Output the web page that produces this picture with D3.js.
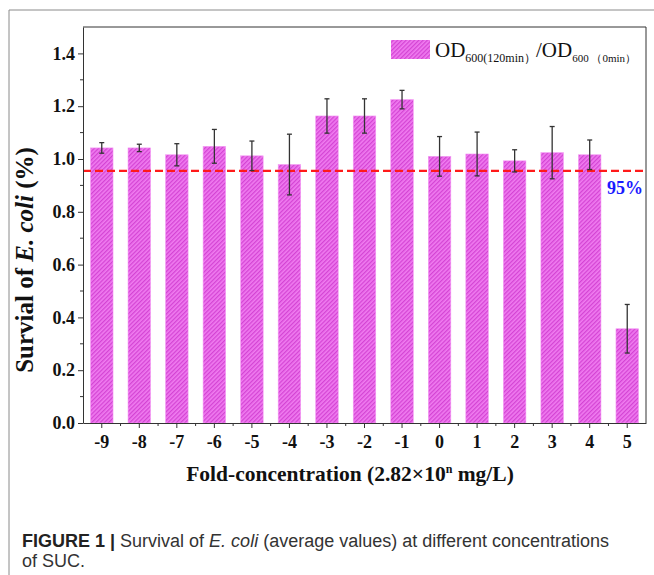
<!DOCTYPE html>
<html>
<head>
<meta charset="utf-8">
<script src="https://cdn.jsdelivr.net/npm/d3@7"></script>
<style>
body { margin: 0; background: #fff; }
svg { display: block; }
</style>
</head>
<body>
<div id="chart"></div>
<script>
// data
var categories = ["-9", "-8", "-7", "-6", "-5", "-4", "-3", "-2", "-1", "0", "1", "2", "3", "4", "5"];
var survival = [1.042, 1.042, 1.016, 1.048, 1.012, 0.979, 1.163, 1.163, 1.225, 1.010, 1.019, 0.993, 1.024, 1.016, 0.357];
var errors = [0.020, 0.014, 0.042, 0.064, 0.056, 0.115, 0.065, 0.065, 0.035, 0.075, 0.083, 0.042, 0.099, 0.056, 0.092];
var yTicks = [0, 0.2, 0.4, 0.6, 0.8, 1.0, 1.2, 1.4];
var threshold = 0.955;

var width = 654,
    height = 575;
var plot = {left: 83, right: 646, top: 27, bottom: 423};

var svg = d3.select("#chart").append("svg")
  .attr("width", width)
  .attr("height", height);

var defs = svg.append("defs");
var pat = defs.append("pattern")
  .attr("id", "hatch")
  .attr("patternUnits", "userSpaceOnUse")
  .attr("width", 3)
  .attr("height", 3)
  .attr("patternTransform", "rotate(45)");
pat.append("rect").attr("width", 3).attr("height", 3).attr("fill", "#f07cf0");
pat.append("rect").attr("width", 1.3).attr("height", 3).attr("fill", "#d444d4");

// outer frame of the figure panel
svg.append("line").attr("x1", 9).attr("x2", 9).attr("y1", 10).attr("y2", height)
  .attr("stroke", "#8a8a8a").attr("stroke-width", 1);
svg.append("line").attr("x1", 9).attr("x2", width).attr("y1", 10).attr("y2", 10)
  .attr("stroke", "#8a8a8a").attr("stroke-width", 1);

var x = d3.scaleBand()
  .domain(categories)
  .range([plot.left, plot.right])
  .paddingInner(0.4)
  .paddingOuter(0.2);

var y = d3.scaleLinear()
  .domain([0, 1.5])
  .range([plot.bottom, plot.top]);

var data = categories.map(function(c, i) {
  return {cat: c, v: survival[i], e: errors[i]};
});

// bars
svg.append("g").selectAll("rect")
  .data(data)
  .enter()
  .append("rect")
  .attr("x", function(d) { return x(d.cat); })
  .attr("y", function(d) { return y(d.v); })
  .attr("width", x.bandwidth())
  .attr("height", function(d) { return y(0) - y(d.v); })
  .attr("fill", "url(#hatch)")
  .attr("stroke", "#f49af4")
  .attr("stroke-width", 0.6);

// threshold line
svg.append("line")
  .attr("x1", plot.left).attr("x2", plot.right)
  .attr("y1", y(threshold)).attr("y2", y(threshold))
  .attr("stroke", "#ff1a1a")
  .attr("stroke-width", 2.4)
  .attr("stroke-dasharray", "8,4");

// error bars
var eb = svg.append("g").attr("stroke", "#333").attr("stroke-width", 1.3);
data.forEach(function(d) {
  var cx = x(d.cat) + x.bandwidth() / 2;
  eb.append("line").attr("x1", cx).attr("x2", cx).attr("y1", y(d.v + d.e)).attr("y2", y(d.v - d.e));
  eb.append("line").attr("x1", cx - 2.5).attr("x2", cx + 2.5).attr("y1", y(d.v + d.e)).attr("y2", y(d.v + d.e));
  eb.append("line").attr("x1", cx - 2.5).attr("x2", cx + 2.5).attr("y1", y(d.v - d.e)).attr("y2", y(d.v - d.e));
});

// axes
var tickFont = "'Liberation Serif', 'Times New Roman', serif";

var yAxis = svg.append("g")
  .attr("transform", "translate(" + plot.left + ",0)")
  .call(d3.axisLeft(y).tickValues(yTicks).tickFormat(d3.format(".1f")).tickSize(5).tickSizeOuter(0).tickPadding(3));

var xAxis = svg.append("g")
  .attr("transform", "translate(0," + plot.bottom + ")")
  .call(d3.axisBottom(x).tickSize(5).tickSizeOuter(0).tickPadding(7));

[yAxis, xAxis].forEach(function(g) {
  g.selectAll("text")
    .attr("font-family", tickFont)
    .attr("font-weight", "bold")
    .attr("font-size", 18)
    .attr("fill", "#111");
  g.selectAll("line, path").attr("stroke", "#333").attr("stroke-width", 1);
});

// minor ticks
var minor = svg.append("g").attr("stroke", "#333").attr("stroke-width", 1);
d3.range(0.1, 1.5, 0.2).forEach(function(v) {
  minor.append("line").attr("x1", plot.left - 3).attr("x2", plot.left).attr("y1", y(v)).attr("y2", y(v));
});
categories.slice(1).forEach(function(c) {
  var mx = x(c) - x.step() * x.paddingInner() / 2;
  minor.append("line").attr("x1", mx).attr("x2", mx).attr("y1", plot.bottom).attr("y2", plot.bottom + 3);
});

// plot box top/right
svg.append("path")
  .attr("d", "M" + plot.left + "," + plot.top + "H" + plot.right + "V" + plot.bottom)
  .attr("fill", "none")
  .attr("stroke", "#333")
  .attr("stroke-width", 1);

// 95% label
svg.append("text")
  .attr("x", 625).attr("y", 194)
  .attr("text-anchor", "middle")
  .attr("font-family", tickFont)
  .attr("font-weight", "bold")
  .attr("font-size", 18)
  .attr("fill", "#1a1aff")
  .text("95%");

// legend
svg.append("rect")
  .attr("x", 391).attr("y", 40).attr("width", 39).attr("height", 19)
  .attr("fill", "url(#hatch)");
var lg = svg.append("text")
  .attr("x", 435).attr("y", 57)
  .attr("font-family", tickFont)
  .attr("font-size", 21)
  .attr("fill", "#111");
lg.append("tspan").text("OD");
lg.append("tspan").attr("font-size", 12).attr("dy", 5).text("600(120min）");
lg.append("tspan").attr("dy", -5).text("/OD");
lg.append("tspan").attr("font-size", 11).attr("dy", 5).text("600 （0min）");

// axis titles
var yl = svg.append("text")
  .attr("transform", "translate(33,260) rotate(-90)")
  .attr("text-anchor", "middle")
  .attr("font-family", tickFont)
  .attr("font-weight", "bold")
  .attr("font-size", 25)
  .attr("fill", "#111");
yl.append("tspan").text("Survial of ");
yl.append("tspan").attr("font-style", "italic").text("E. coli");
yl.append("tspan").text(" (%)");

var xl = svg.append("text")
  .attr("x", 350).attr("y", 481)
  .attr("text-anchor", "middle")
  .attr("font-family", tickFont)
  .attr("font-weight", "bold")
  .attr("font-size", 21.5)
  .attr("fill", "#111");
xl.append("tspan").text("Fold-concentration (2.82×10");
xl.append("tspan").attr("font-size", 12).attr("dy", -8).text("n");
xl.append("tspan").attr("dy", 8).text(" mg/L)");

// caption
var capFont = "'Liberation Sans Narrow', 'Liberation Sans', sans-serif";
var c1 = svg.append("text")
  .attr("x", 22).attr("y", 547)
  .attr("font-family", capFont)
  .attr("font-size", 18)
  .attr("fill", "#333");
c1.append("tspan").attr("font-weight", "bold").attr("fill", "#222").text("FIGURE 1 | ");
c1.append("tspan").text("Survival of ");
c1.append("tspan").attr("font-style", "italic").text("E. coli");
c1.append("tspan").text(" (average values) at different concentrations");
svg.append("text")
  .attr("x", 22).attr("y", 567)
  .attr("font-family", capFont)
  .attr("font-size", 18)
  .attr("fill", "#333")
  .text("of SUC.");
</script>
</body>
</html>
